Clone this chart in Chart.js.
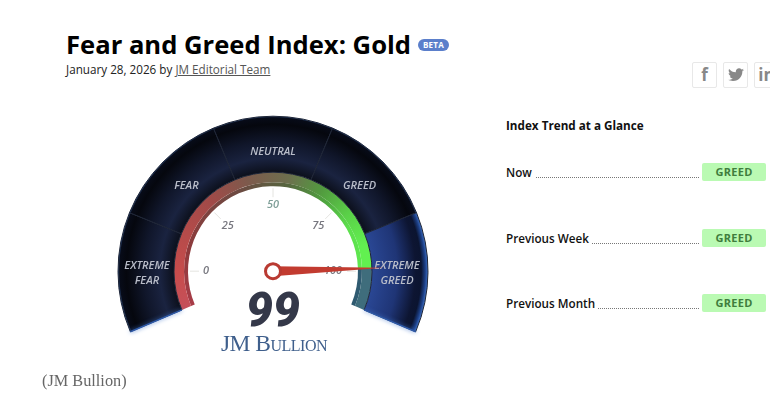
<!DOCTYPE html>
<html>
<head>
<meta charset="utf-8">
<script src="https://cdn.jsdelivr.net/npm/chart.js@4"></script>
<style>
    html, body { margin: 0; background: #fff; }
    body { width: 770px; height: 400px; position: relative; overflow: hidden; font-family: "Open Sans", sans-serif; color: #111; filter: blur(0.35px); }
    .abs { position: absolute; white-space: nowrap; }
    #gaugeChart { position: absolute; left: 0; top: 0; }
    #title { left: 66px; top: 26px; font-size: 25.6px; font-weight: 700; line-height: 38px; color: #000; }
    #beta { left: 418px; top: 39px; width: 31px; height: 12px; border-radius: 6px; background: #5b7fcb; color: #fff; font-size: 8px; font-weight: 700; line-height: 12px; text-align: center; letter-spacing: .3px; }
    #byline { left: 66px; top: 60px; font-size: 11.7px; line-height: 18px; color: #222; }
    #byline u { color: #555; }
    .share { top: 62px; width: 23px; height: 24px; border: 1px solid #e8e8e8; border-radius: 2px; color: #888; font-weight: 700; text-align: center; font-size: 17px; line-height: 24px; }
    .share svg { width: 16px; height: 14px; margin-top: 5px; display: block; margin-left: 4px; }
    #trendHead { left: 506px; top: 116px; font-size: 11.7px; font-weight: 700; line-height: 18px; }
    .rowLabel { left: 506px; font-size: 11.7px; font-weight: 600; line-height: 18px; background: #fff; }
    .leader { border-bottom: 1px dotted #777; height: 0; }
    .pill { left: 702px; width: 64px; height: 18px; border-radius: 2px; background: #bafab3; color: #3f7d3d; font-size: 11px; font-weight: 700; line-height: 18px; text-align: center; letter-spacing: .3px; }
    #score { left: 223px; width: 100px; top: 280px; text-align: center; font-family: Roboto, sans-serif; font-size: 48px; font-weight: 900; font-style: italic; line-height: 60px; color: #343849; }
    #brand { left: 200px; width: 148px; top: 328px; text-align: center; font-family: "Liberation Serif", serif; font-size: 23.5px; line-height: 30px; font-variant: small-caps; color: #3f5f8c; letter-spacing: -.5px; }
    #credit { left: 42px; top: 370px; font-family: "Liberation Serif", serif; font-size: 16.3px; line-height: 22px; color: #666; }
</style>
</head>
<body>
<div class="abs" id="title">Fear and Greed Index: Gold</div>
<div class="abs" id="beta">BETA</div>
<div class="abs" id="byline">January 28, 2026 by <u>JM Editorial Team</u></div>
<div class="abs share" style="left:692px">f</div>
<div class="abs share" style="left:723px"><svg viewBox="0 0 24 20"><path fill="#888" d="M24 2.4c-.9.4-1.800.7-2.800.8 1-.6 1.800-1.600 2.200-2.700-1 .6-2 1-3.100 1.200C19.300.7 18 0 16.600 0c-2.700 0-4.900 2.200-4.900 4.900 0 .4 0 .8.1 1.100C7.700 5.800 4.100 3.900 1.700.9c-.4.7-.7 1.600-.7 2.500 0 1.700.9 3.200 2.200 4.100-.8 0-1.600-.2-2.200-.6v.1c0 2.400 1.700 4.400 3.900 4.800-.4.1-.8.2-1.300.2-.3 0-.6 0-.9-.1.6 2 2.400 3.400 4.600 3.400-1.700 1.300-3.800 2.100-6.100 2.100-.4 0-.8 0-1.200-.1C2.200 18.300 4.800 19.100 7.500 19.100c9.100 0 14-7.500 14-14v-.6c1-.7 1.800-1.500 2.500-2.100z"/></svg></div>
<div class="abs share" style="left:754px">in</div>
<div class="abs" id="trendHead">Index Trend at a Glance</div>
<div id="rows"></div>
<canvas id="gaugeChart" width="770" height="400"></canvas>
<div class="abs" id="score"></div>
<div class="abs" id="brand">JM Bullion</div>
<div class="abs" id="credit">(JM Bullion)</div>

<script>
const zoneLabels = [['EXTREME', 'FEAR'], ['FEAR'], ['NEUTRAL'], ['GREED'], ['EXTREME', 'GREED']];
const zoneValues = [20, 20, 20, 20, 20];
const tickValues = [0, 25, 50, 75, 100];
const gaugeValue = 99;
const scaleMax = 100;
const scaleOverrun = 12.8; // ring runs past 0 and 100 at both ends
const trendLabels = ['Now', 'Previous Week', 'Previous Month'];
const trendValues = ['GREED', 'GREED', 'GREED'];

const cx = 273, cy = 271, outerR = 155, whiteR = 85;
const zoneLabelR = [126, 122, 120, 122, 124];
const tickLabelR = [67, 64, 66, 64, 60];
const rad = d => d * Math.PI / 180;

document.getElementById('score').textContent = gaugeValue;

const rowTops = [163, 229, 294];
const rowsEl = document.getElementById('rows');
trendLabels.forEach((label, i) => {
    rowsEl.insertAdjacentHTML('beforeend',
        `<div class="abs leader" style="left:520px;width:179px;top:${rowTops[i] + 14}px"></div>` +
        `<div class="abs rowLabel" style="top:${rowTops[i]}px;padding-right:3px">${label}</div>` +
        `<div class="abs pill" style="top:${rowTops[i]}px">${trendValues[i]}</div>`);
});

const ctx = document.getElementById('gaugeChart').getContext('2d');

function bandGradient(stops) {
    const g = ctx.createRadialGradient(cx, cy, 99, cx, cy, outerR);
    stops.forEach(s => g.addColorStop(s[0], s[1]));
    return g;
}
const darkBand = bandGradient([[0, '#0c101c'], [0.25, '#1a2340'], [0.55, '#10162a'], [0.85, '#05070e'], [0.97, '#070b18'], [1, '#2a4a7c']]);
const blueBand = bandGradient([[0, '#2a4794'], [0.45, '#1f3576'], [0.78, '#0d1532'], [0.88, '#0b1430'], [0.95, '#1c3f86'], [1, '#3f72c8']]);

function ringGradient(stops) {
    const g = ctx.createConicGradient(rad(157), cx, cy);
    stops.forEach(s => g.addColorStop(s[0], s[1]));
    return g;
}
const ringLit = ringGradient([[0, '#c5505a'], [0.06, '#c84c4c'], [0.2, '#a04a48'], [0.27, '#7d5a4c'], [0.34, '#6d6f4e'], [0.4, '#529a3f'], [0.46, '#5ad048'], [0.52, '#62f050'], [0.628, '#60f050'], [1, '#c5505a']]);
const ringLitInner = ringGradient([[0, '#a83c48'], [0.1, '#8f3a3c'], [0.25, '#6c4a42'], [0.34, '#56653f'], [0.42, '#4fa83f'], [0.48, '#5ddf4d'], [0.628, '#60f050'], [1, '#a83c48']]);

const gaugeOverlay = {
    id: 'gaugeOverlay',
    afterDatasetsDraw(chart) {
        const c = chart.ctx;
        const band = chart.getDatasetMeta(0).data;
        const ring = chart.getDatasetMeta(1).data;
        const x0 = band[0].x, y0 = band[0].y;
        const scaleSpan = ring[0].circumference + ring[1].circumference;
        const total = scaleMax + 2 * scaleOverrun;
        const angleOf = v => band[0].startAngle + (v + scaleOverrun) / total * scaleSpan;

        // glow on both cut ends of the dark band
        c.save();
        c.strokeStyle = '#2f5aa8';
        c.shadowColor = '#3f72c8';
        c.shadowBlur = 4;
        c.lineWidth = 1.5;
        [band[0].startAngle, band[4].endAngle].forEach(a => {
            c.beginPath();
            c.moveTo(x0 + Math.cos(a) * band[0].innerRadius, y0 + Math.sin(a) * band[0].innerRadius);
            c.lineTo(x0 + Math.cos(a) * band[0].outerRadius, y0 + Math.sin(a) * band[0].outerRadius);
            c.stroke();
        });
        c.restore();

        // zone names
        c.save();
        c.font = 'italic 600 11px "Open Sans"';
        c.fillStyle = '#b9bdc9';
        c.textAlign = 'center';
        c.textBaseline = 'middle';
        band.forEach((arc, i) => {
            const mid = (arc.startAngle + arc.endAngle) / 2;
            const px = x0 + Math.cos(mid) * zoneLabelR[i];
            const py = y0 + Math.sin(mid) * zoneLabelR[i];
            const lines = zoneLabels[i];
            lines.forEach((t, j) => c.fillText(t, px, py + 1 + (j - (lines.length - 1) / 2) * 15));
        });
        c.restore();

        // scale ticks and numbers
        c.save();
        c.font = 'italic 600 11px "Open Sans"';
        c.textAlign = 'center';
        c.textBaseline = 'middle';
        tickValues.forEach((v, i) => {
            const a = angleOf(v);
            c.strokeStyle = '#e4e4e0';
            c.lineWidth = 1;
            c.beginPath();
            c.moveTo(x0 + Math.cos(a) * 74, y0 + Math.sin(a) * 74);
            c.lineTo(x0 + Math.cos(a) * 83, y0 + Math.sin(a) * 83);
            c.stroke();
            c.fillStyle = v === 50 ? '#7f9f98' : '#77777f';
            c.fillText(String(v), x0 + Math.cos(a) * tickLabelR[i], y0 + Math.sin(a) * tickLabelR[i]);
        });
        c.restore();

        // needle follows the end of the lit ring arc
        const a = ring[0].endAngle;
        const nx = Math.cos(a), ny = Math.sin(a);
        const px = -ny, py = nx;
        c.save();
        c.fillStyle = '#c23b30';
        c.beginPath();
        c.moveTo(x0 + px * 5, y0 + py * 5);
        c.lineTo(x0 + nx * 111, y0 + ny * 111);
        c.lineTo(x0 - px * 5, y0 - py * 5);
        c.closePath();
        c.fill();
        c.beginPath();
        c.arc(x0, y0, 7.5, 0, Math.PI * 2);
        c.fillStyle = '#fff';
        c.fill();
        c.lineWidth = 3;
        c.strokeStyle = '#b93a32';
        c.stroke();
        c.restore();
    }
};

new Chart(ctx, {
    type: 'doughnut',
    data: {
        datasets: [
            {
                data: zoneValues,
                weight: 56,
                backgroundColor: [darkBand, darkBand, darkBand, darkBand, blueBand],
                borderColor: '#1e2536',
                borderWidth: 1
            },
            {
                data: [scaleOverrun + gaugeValue, scaleMax - gaugeValue + scaleOverrun],
                weight: 10,
                backgroundColor: [ringLit, '#3f6d7c'],
                borderWidth: 0
            },
            {
                data: [scaleOverrun + gaugeValue, scaleMax - gaugeValue + scaleOverrun],
                weight: 4,
                backgroundColor: [ringLitInner, '#2f5a70'],
                borderWidth: 0
            }
        ]
    },
    options: {
        responsive: false,
        animation: false,
        rotation: -113,
        circumference: 226,
        radius: outerR,
        cutout: whiteR / outerR * 100 + '%',
        layout: { padding: { right: 770 - 2 * cx, top: 48 } },
        plugins: { legend: { display: false }, tooltip: { enabled: false } }
    },
    plugins: [gaugeOverlay]
});
</script>
</body>
</html>
